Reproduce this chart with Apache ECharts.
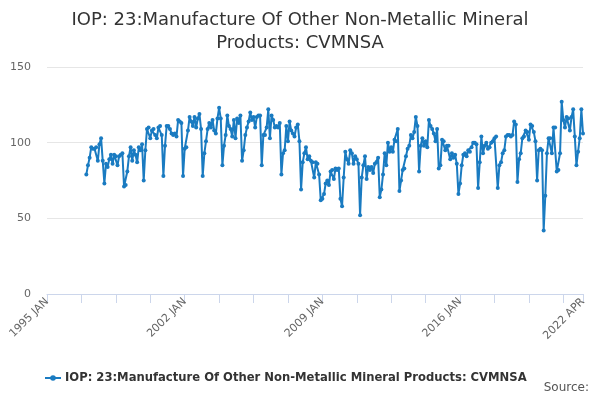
<!DOCTYPE html>
<html lang="en">
  <head>
    <meta charset="UTF-8" />
    <title>IOP: 23 CVMNSA</title>
    <script src="https://cdn.jsdelivr.net/npm/echarts@6.0.0/dist/echarts.min.js"></script>
    <style>
      html, body { margin: 0; padding: 0; background: #fff; }
    </style>
  </head>

  <body>
    <div id="main" style="width: 600px; height: 400px"></div>
    <script type="text/javascript">
      const seriesName = "IOP: 23:Manufacture Of Other Non-Metallic Mineral Products: CVMNSA";
      const monthNames = ["JAN", "FEB", "MAR", "APR", "MAY", "JUN", "JUL", "AUG", "SEP", "OCT", "NOV", "DEC"];
      const firstYear = 1995;
      const lastYear = 2022;
      const lastMonth = 4; // APR

      // monthly index values (no data before 1997)
      const values = [
        null, null, null, null, null, null, null, null, null, null, null, null, // 1995
        null, null, null, null, null, null, null, null, null, null, null, null, // 1996
        79, 85, 90, 97, 96, 96, 97, 88, 99, 103, 88, 73,       // 1997
        86, 84, 89, 92, 86, 92, 91, 85, 91, 92, 93, 71,        // 1998
        72, 81, 91, 97, 88, 95, 92, 87, 97, 95, 99, 75,        // 1999
        95, 109, 110, 103, 108, 109, 105, 103, 110, 111, 105, 78, // 2000
        98, 111, 111, 109, 106, 105, 106, 104, 115, 114, 113, 78, // 2001
        96, 97, 108, 117, 114, 111, 117, 110, 116, 119, 109, 78,  // 2002
        93, 101, 109, 113, 110, 115, 108, 106, 116, 123, 116, 85, // 2003
        98, 105, 118, 111, 109, 104, 115, 103, 116, 113, 118, 88, // 2004
        95, 105, 110, 114, 120, 115, 117, 110, 117, 118, 118, 85, // 2005
        105, 105, 110, 122, 103, 118, 115, 110, 111, 110, 113, 79, // 2006
        93, 95, 111, 101, 114, 108, 106, 104, 110, 112, 101, 69,  // 2007
        87, 93, 97, 89, 91, 88, 87, 77, 87, 86, 79, 62,        // 2008
        63, 66, 73, 75, 72, 81, 82, 76, 83, 82, 83, 63,        // 2009
        58, 77, 94, 89, 86, 95, 93, 86, 91, 89, 86, 52,        // 2010
        77, 85, 91, 76, 84, 82, 84, 80, 86, 87, 90, 64,        // 2011
        69, 79, 93, 85, 100, 94, 97, 94, 102, 101, 109, 68,    // 2012
        75, 82, 83, 91, 96, 98, 105, 103, 107, 117, 111, 81,   // 2013
        98, 103, 98, 101, 97, 115, 111, 109, 106, 101, 109, 83, // 2014
        85, 102, 101, 95, 98, 98, 89, 93, 90, 92, 86, 66,      // 2015
        73, 85, 92, 93, 91, 95, 94, 97, 100, 100, 99, 70,      // 2016
        87, 104, 93, 98, 100, 96, 97, 100, 101, 103, 104, 70,  // 2017
        85, 87, 93, 95, 104, 105, 105, 104, 105, 114, 112, 74, // 2018
        89, 93, 103, 104, 108, 107, 102, 112, 111, 107, 101, 75, // 2019
        95, 96, 95, 42, 65, 93, 103, 103, 93, 110, 110, 81,    // 2020
        82, 93, 127, 115, 110, 117, 116, 108, 117, 122, 104, 85, // 2021
        94, 103, 122, 106                                      // 2022
      ];

      const categories = [];
      for (let y = firstYear; y <= lastYear; y++) {
        for (let m = 0; m < 12; m++) {
          if (y === lastYear && m >= lastMonth) break;
          categories.push(y + " " + monthNames[m]);
        }
      }
      const lastIndex = categories.length - 1;

      const yTicks = [0, 50, 100, 150];

      let myChart = echarts.init(document.getElementById("main"));
      let options = {
        animation: false,
        textStyle: { fontFamily: "DejaVu Sans" },
        title: {
          text: "IOP: 23:Manufacture Of Other Non-Metallic Mineral\nProducts: CVMNSA",
          left: "center",
          top: 4,
          textStyle: { fontFamily: "DejaVu Sans", fontSize: 18, fontWeight: "normal", color: "#333", lineHeight: 23 },
        },
        legend: {
          data: [seriesName],
          left: 39,
          top: 367,
          itemWidth: 16,
          itemHeight: 7,
          itemGap: 5,
          textStyle: { fontFamily: "DejaVu Sans", fontSize: 11.6, fontWeight: "bold", color: "#333", padding: [0, 0, 0, -1] },
        },
        grid: { left: 47, right: 17, top: 67, bottom: 106 },
        xAxis: {
          type: "category",
          data: categories,
          boundaryGap: false,
          axisLine: { lineStyle: { color: "#ccd6eb" } },
          axisTick: {
            length: 9,
            lineStyle: { color: "#ccd6eb" },
            interval: (i) => i % 21 === 0 || i === lastIndex,
          },
          axisLabel: {
            rotate: 45,
            color: "#666",
            fontSize: 11,
            margin: 6,
            interval: (i) => i % 84 === 0 || i === lastIndex,
          },
        },
        yAxis: {
          type: "value",
          min: yTicks[0],
          max: yTicks[yTicks.length - 1],
          interval: 50,
          axisLabel: { color: "#666", fontSize: 11, margin: 16 },
          splitLine: { lineStyle: { color: "#e6e6e6" } },
        },
        graphic: [
          {
            type: "text",
            right: 11,
            top: 382,
            style: { text: "Source:", fontFamily: "DejaVu Sans", fontSize: 12, fill: "#555" },
          },
        ],
        series: [
          {
            name: seriesName,
            type: "line",
            data: values,
            connectNulls: false,
            showSymbol: true,
            showAllSymbol: true,
            symbol: "circle",
            symbolSize: 4,
            itemStyle: { color: "#1a7bc1" },
            lineStyle: { width: 2, color: "#1a7bc1" },
          },
        ],
      };
      myChart.setOption(options);
    </script>
  </body>
</html>
